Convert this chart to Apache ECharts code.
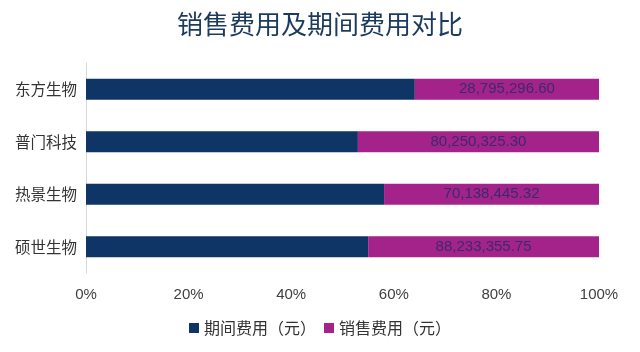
<!DOCTYPE html>
<html>
<head>
<meta charset="utf-8">
<script src="https://cdn.jsdelivr.net/npm/echarts@6/dist/echarts.min.js"></script>
<style>
  html, body { margin: 0; padding: 0; background: #fff; }
  #main { width: 640px; height: 352px; }
</style>
</head>
<body>
<div id="main"></div>
<script>
// 公司（从下到上）
var companies = ['硕世生物', '热景生物', '普门科技', '东方生物'];
// 期间费用（元），按图中比例估算
var periodCost = [107840000, 97260000, 90500000, 51410000];
// 销售费用（元）
var salesCost = [88233355.75, 70138445.32, 80250325.30, 28795296.60];
var xTicks = [0, 20, 40, 60, 80, 100];

var chart = echarts.init(document.getElementById('main'));

// 换算成百分比堆叠
var periodPct = [], salesPct = [];
for (var i = 0; i < companies.length; i++) {
  var total = periodCost[i] + salesCost[i];
  periodPct.push(periodCost[i] / total * 100);
  salesPct.push(salesCost[i] / total * 100);
}

function fmtMoney(v) {
  var parts = v.toFixed(2).split('.');
  return parts[0].replace(/\B(?=(\d{3})+(?!\d))/g, ',') + '.' + parts[1];
}

var option = {
  animation: false,
  title: {
    text: '销售费用及期间费用对比',
    left: 'center',
    top: 6,
    textStyle: {
      fontFamily: 'Noto Sans CJK SC',
      fontSize: 26,
      fontWeight: 'normal',
      color: '#1b3a5c'
    }
  },
  legend: {
    bottom: 11,
    left: 'center',
    itemWidth: 10,
    itemHeight: 10,
    itemGap: 8,
    icon: 'rect',
    textStyle: {
      fontFamily: 'Noto Sans CJK SC',
      fontSize: 16,
      color: '#333'
    },
    data: ['期间费用（元）', '销售费用（元）']
  },
  grid: {
    left: 86,
    right: 41,
    top: 63,
    bottom: 79
  },
  xAxis: {
    type: 'value',
    min: 0,
    max: 100,
    interval: 20,
    axisLine: { show: false },
    axisTick: { show: false },
    splitLine: { show: false },
    axisLabel: {
      margin: 14,
      fontFamily: 'Liberation Sans',
      fontSize: 15,
      color: '#404040',
      formatter: function (v) { return xTicks.indexOf(v) >= 0 ? v + '%' : ''; }
    }
  },
  yAxis: {
    type: 'category',
    data: companies,
    axisLine: { show: true, lineStyle: { color: '#d9d9d9' } },
    axisTick: { show: false },
    axisLabel: {
      margin: 9,
      fontFamily: 'Noto Sans CJK SC',
      fontSize: 15.5,
      color: '#333'
    }
  },
  series: [
    {
      name: '期间费用（元）',
      type: 'bar',
      stack: 'total',
      barCategoryGap: '60%',
      itemStyle: { color: '#0e3566' },
      data: periodPct
    },
    {
      name: '销售费用（元）',
      type: 'bar',
      stack: 'total',
      barCategoryGap: '60%',
      itemStyle: { color: '#a4238b' },
      label: {
        show: true,
        position: 'inside',
        fontFamily: 'Liberation Sans',
        fontSize: 15,
        color: '#3b2a6b',
        formatter: function (p) { return fmtMoney(salesCost[p.dataIndex]); }
      },
      data: salesPct
    }
  ]
};

chart.setOption(option);
</script>
</body>
</html>
